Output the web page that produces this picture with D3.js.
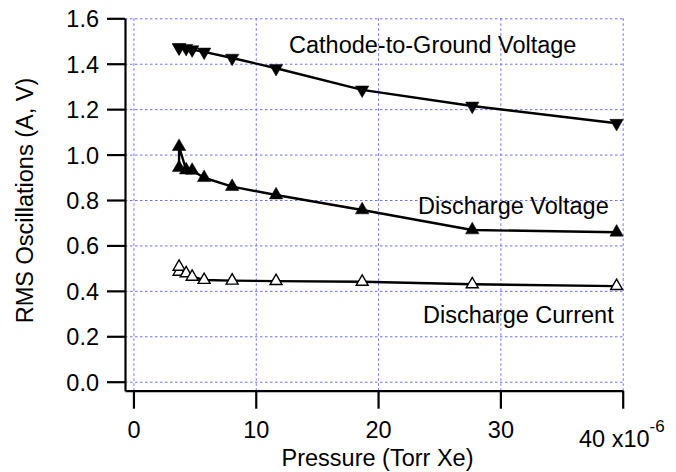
<!DOCTYPE html>
<html>
<head>
<meta charset="utf-8">
<script src="https://cdn.jsdelivr.net/npm/d3@7"></script>
<style>
  html, body { margin: 0; padding: 0; background: #fff; }
  svg text { font-family: "Liberation Sans", Arial, Helvetica, sans-serif; fill: #000; }
</style>
</head>
<body>
<svg id="chart" width="676" height="472"></svg>
<script>
// ---- data ----
const pressure   = [3.73, 3.73, 4.31, 4.8, 5.78, 8.07, 11.66, 18.7, 27.7, 39.5];
const cathodeV   = [1.472, 1.470, 1.468, 1.462, 1.452, 1.425, 1.38, 1.285, 1.214, 1.138];
const dischargeV = [0.942, 1.035, 0.932, 0.93, 0.898, 0.859, 0.822, 0.756, 0.668, 0.658];
const dischargeI = [0.484, 0.506, 0.477, 0.462, 0.448, 0.445, 0.443, 0.440, 0.429, 0.421];
const xTicks = [0, 10, 20, 30, 40];
const yTicks = [0.0, 0.2, 0.4, 0.6, 0.8, 1.0, 1.2, 1.4, 1.6];
const xTitle = "Pressure (Torr Xe)";
const yTitle = "RMS Oscillations (A, V)";
const labels = ["Cathode-to-Ground Voltage", "Discharge Voltage", "Discharge Current"];

// ---- layout ----
const svg = d3.select("#chart");
const FS = 23.5;
const x = d3.scaleLinear().domain([-0.69, 40]).range([125, 622.7]);
const y = d3.scaleLinear().domain([-0.0396, 1.6]).range([390.7, 18.3]);

// grid
const grid = svg.append("g").attr("stroke", "#7070ff").attr("stroke-width", 1)
  .attr("stroke-dasharray", "2.5,2.5").attr("fill", "none");
grid.selectAll("line.h").data(yTicks).join("line")
  .attr("x1", x(-0.69)).attr("x2", x(40))
  .attr("y1", d => y(d) + 0.5).attr("y2", d => y(d) + 0.5);
grid.selectAll("line.v").data(xTicks).join("line")
  .attr("x1", d => x(d) + 0.5).attr("x2", d => x(d) + 0.5)
  .attr("y1", y(1.6)).attr("y2", y(-0.0396));

// axes
const yAxis = svg.append("g").attr("transform", "translate(125,0)")
  .call(d3.axisLeft(y).tickValues(yTicks).tickFormat(d3.format(".1f"))
    .tickSize(18).tickSizeOuter(0).tickPadding(8));
const xAxis = svg.append("g").attr("transform", "translate(0,390.7)")
  .call(d3.axisBottom(x).tickValues(xTicks).tickFormat(d => d === 40 ? "" : d)
    .tickSize(18).tickSizeOuter(0).tickPadding(9));
[yAxis, xAxis].forEach(a => {
  a.select(".domain").attr("stroke", "#000").attr("stroke-width", 2.2);
  a.selectAll(".tick line").attr("stroke", "#000").attr("stroke-width", 2.2);
  a.selectAll("text").attr("font-size", FS).attr("font-family", null).attr("fill", "#000");
});
yAxis.selectAll("text").attr("dy", "0.36em");
xAxis.selectAll("text").attr("y", 47).attr("dy", null);

// 40 x10^-6 label
const t40 = svg.append("text").attr("x", 579).attr("y", 446.5)
  .attr("text-anchor", "start").attr("font-size", FS);
t40.append("tspan").text("40 x10");
t40.append("tspan").attr("dy", -15).attr("font-size", 17).text("-6");

// titles
svg.append("text").attr("x", 377.5).attr("y", 466).attr("text-anchor", "middle")
  .attr("font-size", FS).text(xTitle);
svg.append("text").attr("transform", "translate(33,200.5) rotate(-90)")
  .attr("text-anchor", "middle").attr("font-size", FS).text(yTitle);

// series
const series = [
  { vals: cathodeV, type: "down", fill: "#000" },
  { vals: dischargeV, type: "up", fill: "#000" },
  { vals: dischargeI, type: "up", fill: "#fff" }
];
const line = d3.line().x(d => x(d[0])).y(d => y(d[1]));
series.forEach(s => {
  const pts = pressure.map((p, i) => [p, s.vals[i]]);
  svg.append("path").datum(pts).attr("d", line)
    .attr("fill", "none").attr("stroke", "#000").attr("stroke-width", 2.4)
    .attr("stroke-linejoin", "round");
});
series.forEach(s => {
  const pts = pressure.map((p, i) => [p, s.vals[i]]);
  const sym = d3.symbol().type(d3.symbolTriangle).size(s.fill === "#fff" ? 62 : 78);
  svg.append("g").selectAll("path").data(pts).join("path")
    .attr("d", sym)
    .attr("transform", d => `translate(${x(d[0])},${y(d[1])})` + (s.type === "down" ? " rotate(180)" : ""))
    .attr("fill", s.fill).attr("stroke", "#000").attr("stroke-width", s.fill === "#fff" ? 1.4 : 0.5);
});

// annotations
svg.append("text").attr("x", 289).attr("y", 53).attr("font-size", FS).text(labels[0]);
svg.append("text").attr("x", 418).attr("y", 214.3).attr("font-size", FS).text(labels[1]);
svg.append("text").attr("x", 423).attr("y", 323.3).attr("font-size", FS).text(labels[2]);
</script>
</body>
</html>
